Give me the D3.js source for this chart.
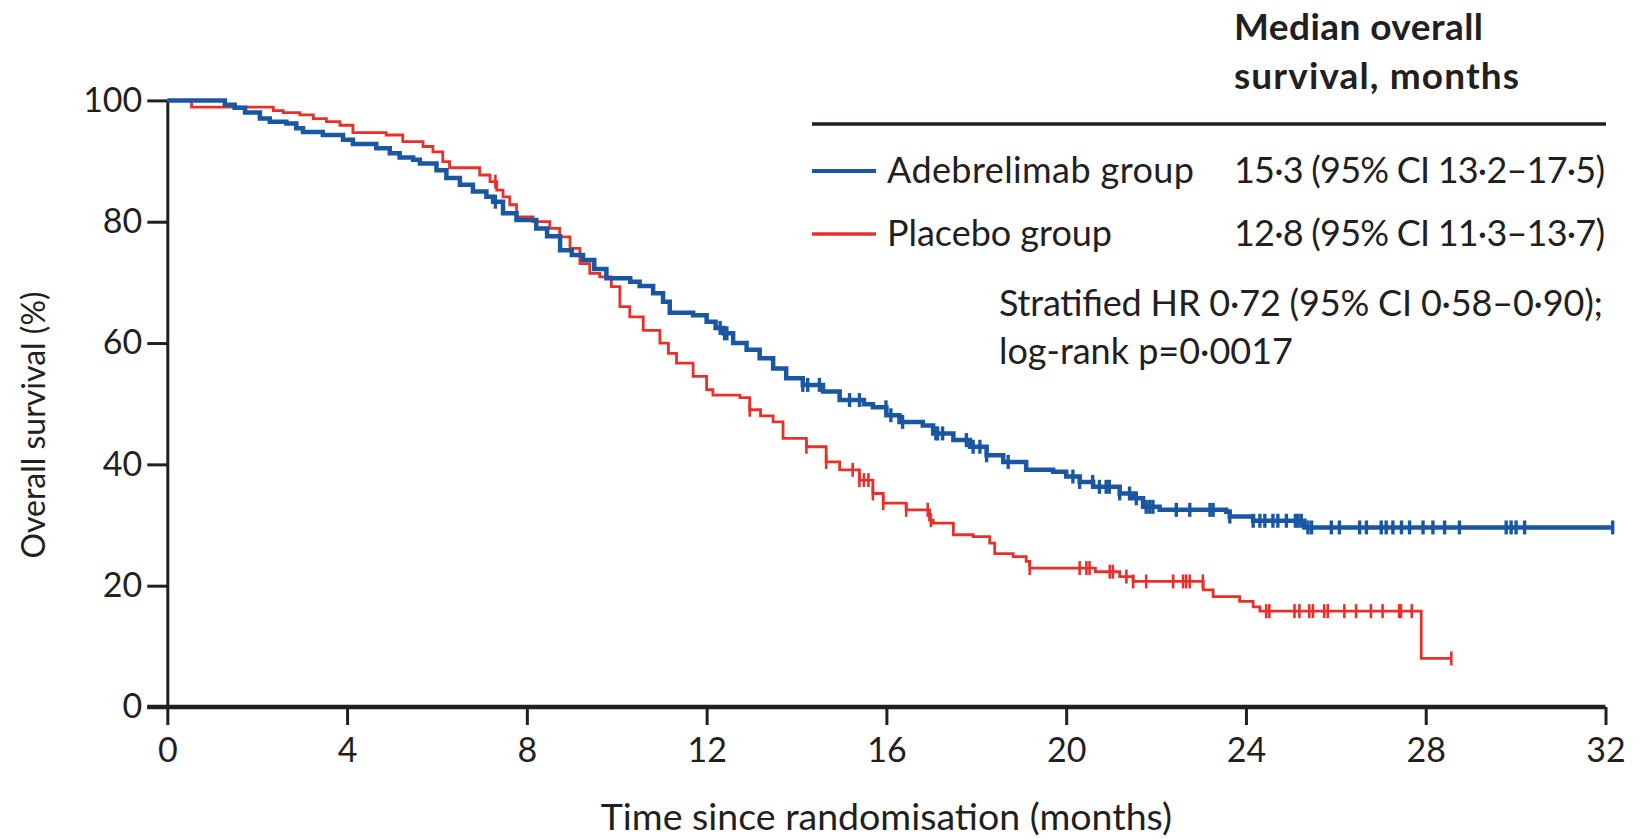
<!DOCTYPE html>
<html>
<head>
<meta charset="utf-8">
<script src="https://cdn.jsdelivr.net/npm/d3@7"></script>
<style>
  html, body { margin: 0; padding: 0; background: #fff; }
  svg { display: block; }
  text { font-family: Lato, "Open Sans", sans-serif; fill: #231f20; }
</style>
</head>
<body>
<svg id="chart" width="1640" height="839"></svg>
<script>
// ---------------- data ----------------
const xTicks = [0, 4, 8, 12, 16, 20, 24, 28, 32];
const yTicks = [0, 20, 40, 60, 80, 100];

// Kaplan-Meier step points [month, survival %] (value after each drop)
const adebrelimabSteps = [
  [0,100],[1.28,99.3],[1.5,98.8],[1.73,98.0],[2.06,97.0],[2.28,96.5],[2.65,96.2],[2.87,95.4],
  [3.02,94.8],[3.46,94.3],[3.91,93.5],[4.13,92.8],[4.65,92.1],[4.95,91.3],[5.17,90.6],[5.47,90.2],
  [5.62,89.6],[5.99,88.5],[6.21,87.2],[6.51,86.1],[6.80,85.0],[7.10,84.1],[7.25,83.3],[7.47,81.4],
  [7.77,80.3],[8.21,78.9],[8.45,77.6],[8.74,75.3],[9.0,74.5],[9.25,73.7],[9.5,72.2],[9.77,70.7],
  [10.3,70.1],[10.51,69.4],[10.81,68.2],[11.03,66.8],[11.18,65.0],[11.70,64.6],[12.0,63.5],
  [12.2,62.5],[12.37,61.6],[12.59,60.0],[12.89,58.9],[13.18,57.5],[13.48,55.8],[13.77,54.2],
  [14.14,53.1],[14.59,52.0],[14.96,50.6],[15.5,49.9],[15.70,49.4],[16.0,48.1],[16.29,47.0],
  [16.81,46.4],[17.04,45.1],[17.49,44.0],[17.86,42.9],[18.23,41.5],[18.60,40.4],[19.11,39.1],
  [19.71,38.8],[20.0,38.0],[20.30,37.1],[20.60,36.3],[21.19,35.2],[21.49,34.4],[21.71,33.0],
  [22.08,32.5],[23.56,32.2],[23.64,31.4],[24.16,30.7],[25.3,29.6]
];
const adebrelimabEnd = 32.16;
const adebrelimabCensor = [
  7.3, 12.3, 12.4, 12.45, 14.14, 14.25, 14.51, 15.18, 15.40, 15.99, 16.10, 16.36, 17.1, 17.14, 17.25,
  17.78, 17.93, 18.08, 18.23, 18.71, 20.15, 20.3, 20.59, 20.74, 20.89, 20.96, 21.19, 21.41, 21.56,
  21.78, 21.86, 21.93, 22.45, 22.75, 23.2, 23.27, 23.64, 24.16, 24.31, 24.42, 24.6, 24.71, 24.9,
  25.1, 25.16, 25.23, 25.38, 25.46, 25.9, 26.08, 26.53, 26.68, 27.01, 27.12, 27.27, 27.46, 27.64,
  27.94, 28.16, 28.42, 28.75, 29.79, 29.9, 30.01, 30.2, 32.16
];

const placeboSteps = [
  [0,100],[0.54,98.9],[2.36,98.3],[2.58,98.0],[2.95,97.6],[3.25,97.0],[3.54,96.5],[3.84,95.9],
  [4.13,94.7],[4.87,94.3],[5.24,93.2],[5.69,92.4],[5.91,91.5],[6.13,89.9],[6.28,88.9],[6.95,87.7],
  [7.18,86.6],[7.33,85.2],[7.47,84.1],[7.62,82.8],[7.77,80.8],[8.14,80.0],[8.51,78.9],[8.73,77.5],
  [8.96,75.6],[9.18,73.1],[9.4,71.5],[9.62,70.9],[9.88,69.3],[10.07,66.0],[10.29,64.3],[10.59,62.1],
  [10.96,60.0],[11.15,58.3],[11.33,56.7],[11.70,54.5],[12.0,52.3],[12.14,51.4],[12.74,51.0],
  [12.96,49.0],[13.2,48.0],[13.48,47.0],[13.70,44.3],[14.22,42.9],[14.66,40.4],[14.96,39.1],
  [15.40,37.4],[15.70,35.2],[15.93,33.6],[16.44,32.5],[16.96,30.8],[17.04,30.3],[17.49,28.4],
  [17.93,28.1],[18.30,27.0],[18.41,25.3],[18.82,24.8],[19.11,24.0],[19.19,22.9],[20.65,22.3],
  [21.19,21.5],[21.49,20.7],[23.05,19.3],[23.27,18.2],[23.86,17.4],[24.16,16.5],[24.31,15.8],
  [27.9,8.0]
];
const placeboEnd = 28.57;
const placeboCensor = [
  7.3, 12.96, 14.22, 14.66, 15.25, 15.4, 15.5, 15.6, 15.7, 15.93, 16.44, 16.92, 16.99, 19.19,
  20.3, 20.45, 20.52, 20.97, 21.04, 21.34, 21.49, 21.78, 22.38, 22.6, 22.67, 22.75, 23.04,
  24.45, 24.52, 25.08, 25.19, 25.41, 25.49, 25.74, 25.82, 26.19, 26.45, 26.78, 27.04, 27.41,
  27.45, 27.69, 28.57
];

const groupNames = ["Adebrelimab group", "Placebo group"];
const medianTexts = ["15·3 (95% CI 13·2–17·5)", "12·8 (95% CI 11·3–13·7)"];
const headerLines = ["Median overall", "survival, months"];
const statLines = ["Stratified HR 0·72 (95% CI 0·58–0·90);", "log-rank p=0·0017"];
const xTitle = "Time since randomisation (months)";
const yTitle = "Overall survival (%)";

const BLUE = "#1a57a3";
const RED = "#e8302a";
const INK = "#231f20";

// ---------------- chart ----------------
const svg = d3.select("#chart");
const x = d3.scaleLinear().domain([0, 32]).range([167.3, 1605.5]);
const y = d3.scaleLinear().domain([0, 100]).range([707, 100.4]);

// Y axis
const yAxis = d3.axisLeft(y).tickValues(yTicks).tickSize(20).tickSizeOuter(0).tickPadding(5);
const gy = svg.append("g").attr("transform", `translate(${x(0)},0)`).call(yAxis);
gy.select(".domain").attr("stroke", INK).attr("stroke-width", 3);
gy.selectAll(".tick line").attr("stroke", INK).attr("stroke-width", 3);
gy.selectAll(".tick text").attr("font-size", 34).attr("font-family", "Lato").attr("fill", INK);

// X axis
const xAxis = d3.axisBottom(x).tickValues(xTicks).tickSize(18).tickSizeOuter(0).tickPadding(13);
const gx = svg.append("g").attr("transform", `translate(0,${y(0)})`).call(xAxis);
gx.select(".domain").remove();
gx.append("line")
  .attr("x1", x(0) - 20).attr("x2", x(32))
  .attr("y1", 0).attr("y2", 0)
  .attr("stroke", INK).attr("stroke-width", 4.5);
gx.selectAll(".tick line").attr("stroke", INK).attr("stroke-width", 3);
gx.selectAll(".tick text").attr("font-size", 34).attr("font-family", "Lato").attr("fill", INK);

// Axis titles
svg.append("text")
  .attr("x", (x(0) + x(32)) / 2).attr("y", 830)
  .attr("text-anchor", "middle").attr("font-size", 37.5)
  .text(xTitle);
svg.append("text")
  .attr("transform", `translate(45,425) rotate(-90)`)
  .attr("text-anchor", "middle").attr("font-size", 32)
  .text(yTitle);

// KM curves
function stepValue(steps, t) {
  const i = d3.bisector(d => d[0]).right(steps, t) - 1;
  return steps[Math.max(0, i)][1];
}
const line = d3.line().x(d => x(d[0])).y(d => y(d[1])).curve(d3.curveStepAfter);

const series = [
  { steps: placeboSteps, end: placeboEnd, censor: placeboCensor, color: RED, width: 2.8, cw: 2.6 },
  { steps: adebrelimabSteps, end: adebrelimabEnd, censor: adebrelimabCensor, color: BLUE, width: 4.5, cw: 3.4 }
];

series.forEach(s => {
  const pts = s.steps.concat([[s.end, s.steps[s.steps.length - 1][1]]]);
  svg.append("path")
    .attr("d", line(pts))
    .attr("fill", "none")
    .attr("stroke", s.color)
    .attr("stroke-width", s.width)
    .attr("stroke-linejoin", "miter");
  svg.append("g").selectAll("line").data(s.censor).join("line")
    .attr("x1", d => x(d)).attr("x2", d => x(d))
    .attr("y1", d => y(stepValue(s.steps, d)) - 7)
    .attr("y2", d => y(stepValue(s.steps, d)) + 7)
    .attr("stroke", s.color).attr("stroke-width", s.cw);
});

// Legend / table
const legend = svg.append("g");
const headerLen = [249, 285];
legend.selectAll("text.hdr").data(headerLines).join("text")
  .attr("class", "hdr")
  .attr("x", 1234).attr("y", (d, i) => 40 + i * 49)
  .attr("font-size", 37).attr("font-weight", 700)
  .attr("textLength", (d, i) => headerLen[i]).attr("lengthAdjust", "spacing")
  .text(d => d);
legend.append("line")
  .attr("x1", 812).attr("x2", 1606).attr("y1", 124).attr("y2", 124)
  .attr("stroke", INK).attr("stroke-width", 3.5);

const colors = [BLUE, RED];
const nameLen = [307, 225];
groupNames.forEach((g, i) => {
  const yy = 171 + i * 63;
  legend.append("line")
    .attr("x1", 812).attr("x2", 876).attr("y1", yy).attr("y2", yy)
    .attr("stroke", colors[i]).attr("stroke-width", i === 0 ? 4 : 3.5);
  legend.append("text").attr("x", 887).attr("y", yy + 12)
    .attr("font-size", 36)
    .attr("textLength", nameLen[i]).attr("lengthAdjust", "spacing")
    .text(g);
  legend.append("text").attr("x", 1234).attr("y", yy + 12)
    .attr("font-size", 36)
    .attr("textLength", 371).attr("lengthAdjust", "spacing")
    .text(medianTexts[i]);
});
const statLen = [604, 294];
legend.selectAll("text.stat").data(statLines).join("text")
  .attr("class", "stat")
  .attr("x", 999).attr("y", (d, i) => 316 + i * 48)
  .attr("font-size", 36)
  .attr("textLength", (d, i) => statLen[i]).attr("lengthAdjust", "spacing")
  .text(d => d);
</script>
</body>
</html>
